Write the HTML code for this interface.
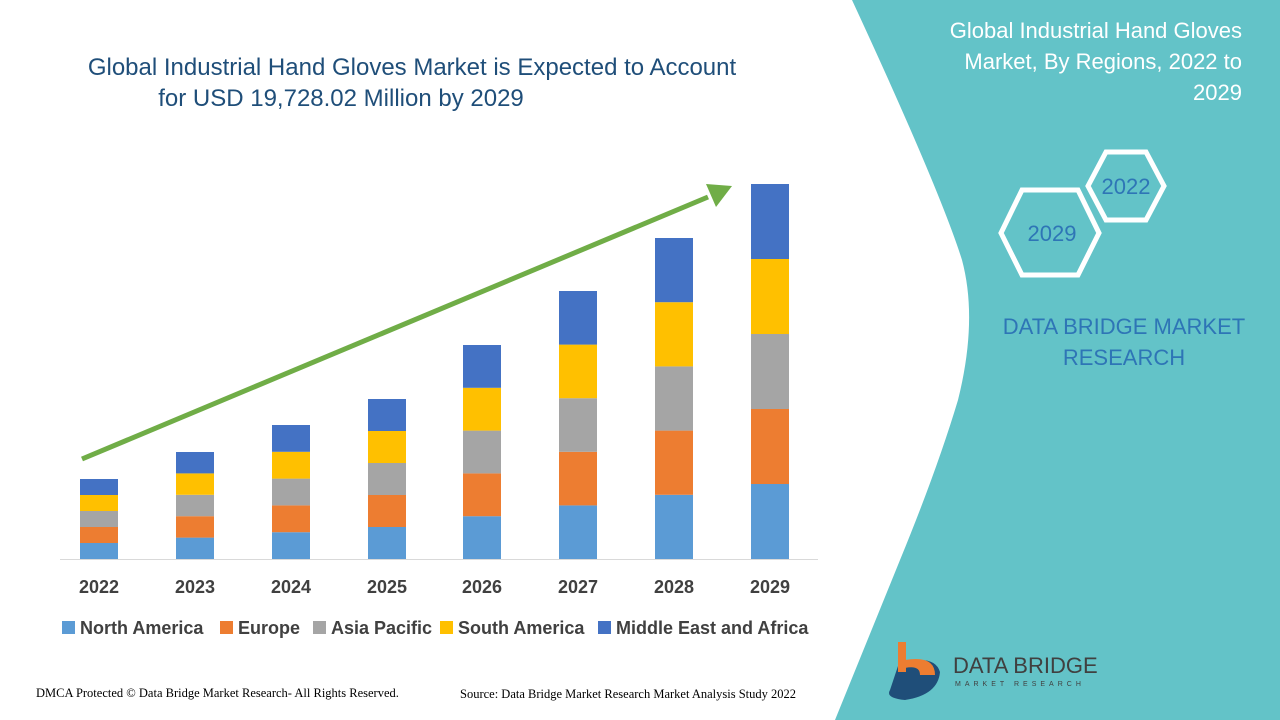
<!DOCTYPE html>
<html><head><meta charset="utf-8"><style>
body{margin:0;width:1280px;height:720px;overflow:hidden;background:#fff;font-family:"Liberation Sans",sans-serif;position:relative}
</style></head><body>
<svg width="1280" height="720" style="position:absolute;left:0;top:0">
<path d="M852,0 L1280,0 L1280,720 L835,720 L900,560 Q937,470 958,400 Q978,320 962,260 Q940,190 852,0 Z" fill="#63c3c8"/>
<text x="1242" y="38" text-anchor="end" font-size="22" fill="#fff">Global Industrial Hand Gloves</text>
<text x="1242" y="69" text-anchor="end" font-size="22" fill="#fff">Market, By Regions, 2022 to</text>
<text x="1242" y="100" text-anchor="end" font-size="22" fill="#fff">2029</text>
<polygon points="1088,186 1106,152 1146,152 1164,186 1146,220 1106,220" fill="none" stroke="#fff" stroke-width="5"/>
<polygon points="1001,233 1022,190 1078,190 1099,233 1078,275 1022,275" fill="none" stroke="#fff" stroke-width="5"/>
<text x="1126" y="194" text-anchor="middle" font-size="22" fill="#2e75b6">2022</text>
<text x="1052" y="241" text-anchor="middle" font-size="22" fill="#2e75b6">2029</text>
<text x="1124" y="334" text-anchor="middle" font-size="22" fill="#2e75b6">DATA BRIDGE MARKET</text>
<text x="1124" y="365" text-anchor="middle" font-size="22" fill="#2e75b6">RESEARCH</text>
<text x="412" y="75" text-anchor="middle" font-size="24" fill="#1f4e79">Global Industrial Hand Gloves Market is Expected to Account</text>
<text x="341" y="106" text-anchor="middle" font-size="24" fill="#1f4e79">for USD 19,728.02 Million by 2029</text>
<line x1="60" y1="559.5" x2="818" y2="559.5" stroke="#d9d9d9" stroke-width="1"/>
<g id="bars"></g>
<line x1="82" y1="459" x2="708" y2="197" stroke="#70ad47" stroke-width="5"/>
<polygon points="732,186 706,184 716,207" fill="#70ad47"/>
<g font-size="18" font-weight="bold" fill="#404040" text-anchor="middle">
<text x="99" y="593">2022</text><text x="195" y="593">2023</text><text x="291" y="593">2024</text><text x="387" y="593">2025</text><text x="482" y="593">2026</text><text x="578" y="593">2027</text><text x="674" y="593">2028</text><text x="770" y="593">2029</text>
</g>
<g font-size="18" font-weight="bold" fill="#404040">
<rect x="62" y="621" width="13" height="13" fill="#5b9bd5"/><text x="80" y="634">North America</text>
<rect x="220" y="621" width="13" height="13" fill="#ed7d31"/><text x="238" y="634">Europe</text>
<rect x="313" y="621" width="13" height="13" fill="#a5a5a5"/><text x="331" y="634">Asia Pacific</text>
<rect x="440" y="621" width="13" height="13" fill="#ffc000"/><text x="458" y="634">South America</text>
<rect x="598" y="621" width="13" height="13" fill="#4472c4"/><text x="616" y="634">Middle East and Africa</text>
</g>
<text x="36" y="697" font-family="Liberation Serif" font-size="12.5" fill="#000">DMCA Protected © Data Bridge Market Research- All Rights Reserved.</text>
<text x="460" y="698" font-family="Liberation Serif" font-size="12.5" fill="#000">Source: Data Bridge Market Research Market Analysis Study 2022</text>
<g>
<path d="M905,645 L905,662 Q935,655 940,672 Q938,695 905,700 Q885,698 890,690 Z" fill="#1f4e79"/>
<rect x="898" y="642" width="8" height="30" fill="#ed7d31"/>
<path d="M905,660 Q935,655 935,675 L920,675 Q920,665 905,668 Z" fill="#ed7d31"/>
<text x="953" y="673" font-size="22" fill="#404040">DATA BRIDGE</text>
<text x="955" y="686" font-size="7" fill="#404040" letter-spacing="4">MARKET RESEARCH</text>
</g>
</svg>
<script>
const xs=[80,176,272,368,463,559,655,751],h=[16,21.4,26.8,32,42.8,53.6,64.2,75],c=["#5b9bd5","#ed7d31","#a5a5a5","#ffc000","#4472c4"];
let s="";xs.forEach((x,i)=>{for(let k=0;k<5;k++){const y=559-h[i]*(k+1);s+=`<rect x="${x}" y="${y}" width="38" height="${h[i]}" fill="${c[k]}"/>`;}});
document.getElementById("bars").innerHTML=s;
</script>
</body></html>
